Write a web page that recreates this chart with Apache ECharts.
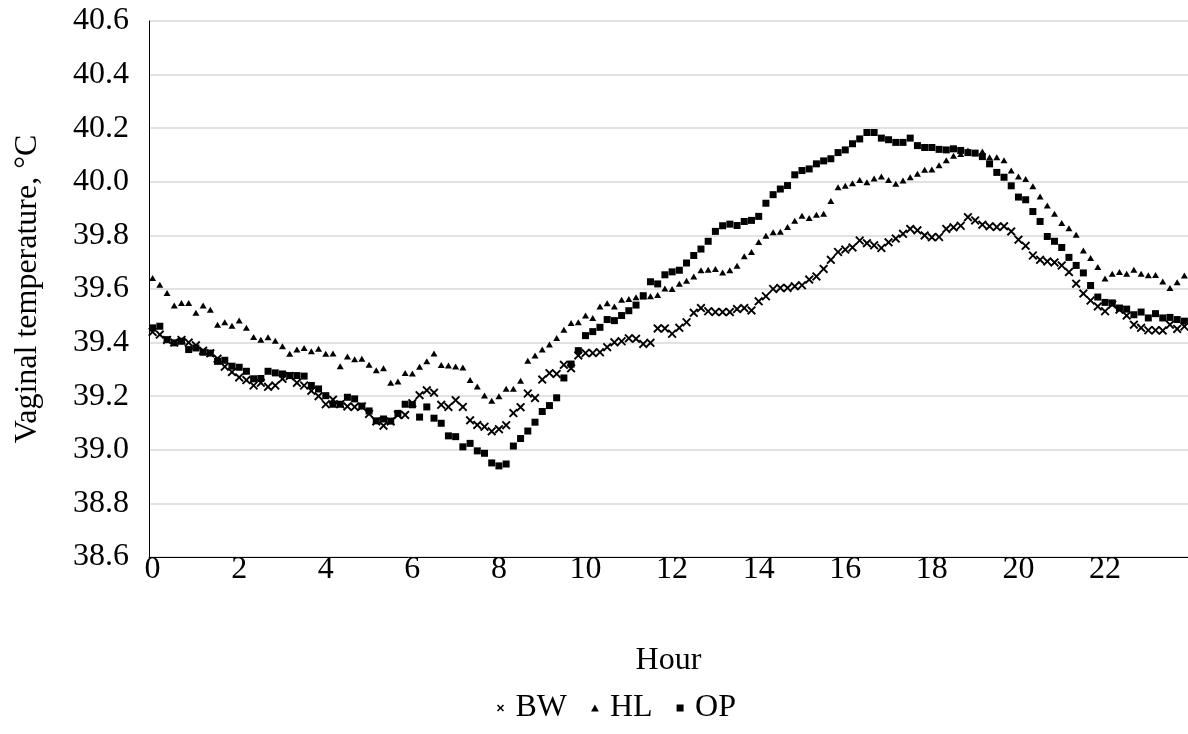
<!DOCTYPE html>
<html>
<head>
<meta charset="utf-8">
<script src="https://cdn.jsdelivr.net/npm/echarts@6/dist/echarts.min.js"></script>
<style>html,body{margin:0;padding:0;background:#fff;}#c{width:1188px;height:734px;}</style>
</head>
<body>
<div id="c"></div>
<script>
// 10-minute readings, 144 per series (hour 0:00 .. 23:50)
const seriesNames = ['BW', 'HL', 'OP'];
const xTickLabels = ['0','2','4','6','8','10','12','14','16','18','20','22'];
const yTickLabels = ['38.6','38.8','39.0','39.2','39.4','39.6','39.8','40.0','40.2','40.4','40.6'];

const bw = [39.44,39.43,39.41,39.40,39.41,39.40,39.39,39.37,39.36,39.34,
39.31,39.29,39.27,39.26,39.24,39.25,39.235,39.24,39.265,39.275,
39.25,39.24,39.22,39.20,39.17,39.187,39.17,39.162,39.16,39.162,
39.134,39.106,39.09,39.106,39.13,39.13,39.174,39.204,39.222,39.213,
39.168,39.16,39.185,39.16,39.11,39.093,39.086,39.069,39.077,39.092,
39.137,39.159,39.21,39.193,39.262,39.286,39.283,39.317,39.304,39.352,
39.361,39.361,39.364,39.383,39.401,39.405,39.416,39.414,39.395,39.399,
39.453,39.453,39.433,39.455,39.476,39.511,39.529,39.517,39.514,39.514,
39.514,39.525,39.529,39.520,39.554,39.573,39.600,39.604,39.604,39.610,
39.614,39.635,39.647,39.675,39.709,39.738,39.747,39.755,39.781,39.771,
39.763,39.753,39.774,39.788,39.806,39.824,39.819,39.800,39.793,39.794,
39.824,39.830,39.836,39.868,39.856,39.840,39.834,39.831,39.834,39.815,
39.784,39.761,39.725,39.709,39.703,39.699,39.688,39.663,39.620,39.583,
39.557,39.535,39.517,39.542,39.523,39.501,39.467,39.455,39.446,39.446,
39.445,39.467,39.451,39.46];

const hl = [39.641,39.616,39.585,39.538,39.548,39.548,39.511,39.538,39.523,39.467,
39.476,39.463,39.482,39.455,39.421,39.411,39.420,39.407,39.386,39.358,
39.374,39.380,39.368,39.377,39.358,39.359,39.312,39.348,39.338,39.340,
39.317,39.297,39.304,39.250,39.255,39.287,39.285,39.31,39.33,39.359,
39.316,39.315,39.311,39.307,39.260,39.236,39.203,39.183,39.200,39.228,
39.228,39.258,39.332,39.352,39.374,39.393,39.417,39.448,39.473,39.476,
39.501,39.492,39.535,39.547,39.535,39.560,39.563,39.569,39.572,39.573,
39.578,39.602,39.600,39.620,39.631,39.647,39.670,39.672,39.675,39.662,
39.670,39.687,39.722,39.738,39.775,39.799,39.812,39.814,39.831,39.855,
39.873,39.865,39.877,39.881,39.928,39.980,39.985,39.995,40.007,39.998,
40.012,40.020,40.007,39.993,40.005,40.017,40.030,40.045,40.046,40.062,
40.080,40.097,40.104,40.117,40.109,40.113,40.092,40.092,40.080,40.042,
40.020,40.010,39.983,39.945,39.912,39.881,39.846,39.827,39.802,39.744,
39.716,39.682,39.639,39.657,39.663,39.657,39.672,39.657,39.651,39.652,
39.628,39.604,39.625,39.65];

const op = [39.455,39.461,39.411,39.399,39.405,39.374,39.380,39.364,39.361,39.330,
39.334,39.312,39.308,39.293,39.265,39.266,39.293,39.287,39.283,39.277,
39.277,39.275,39.240,39.227,39.202,39.170,39.170,39.196,39.190,39.163,
39.145,39.108,39.115,39.107,39.136,39.170,39.168,39.122,39.160,39.118,
39.099,39.052,39.049,39.011,39.024,38.996,38.987,38.951,38.940,38.947,
39.014,39.042,39.070,39.103,39.143,39.165,39.194,39.268,39.320,39.370,
39.426,39.441,39.457,39.486,39.482,39.501,39.519,39.540,39.575,39.627,
39.619,39.653,39.664,39.670,39.697,39.725,39.749,39.778,39.815,39.836,
39.842,39.837,39.852,39.856,39.871,39.920,39.952,39.973,39.986,40.026,
40.042,40.048,40.067,40.078,40.086,40.109,40.119,40.142,40.160,40.184,
40.184,40.163,40.157,40.147,40.147,40.163,40.135,40.128,40.128,40.121,
40.119,40.123,40.117,40.109,40.107,40.094,40.067,40.035,40.017,39.985,
39.943,39.933,39.889,39.852,39.796,39.778,39.755,39.718,39.688,39.660,
39.613,39.570,39.550,39.548,39.529,39.525,39.504,39.514,39.492,39.508,
39.492,39.494,39.486,39.48];

// category labels: one per 10-minute reading
const categories = [];
for (let h = 0; h < 24; h++) for (let m = 0; m < 60; m += 10) categories.push(h + ':' + (m < 10 ? '0' : '') + m);

const FONT = '"Liberation Serif", "Times New Roman", serif';
const FS = 32;
const xPath = 'path://M0,1.5L1.5,0L5,3.5L8.5,0L10,1.5L6.5,5L10,8.5L8.5,10L5,6.5L1.5,10L0,8.5L3.5,5Z';
const triPath = 'path://M5,0L10,9L0,9Z';
const sqPath = 'path://M0,0L10,0L10,10L0,10Z';

const chart = echarts.init(document.getElementById('c'), null, {renderer: 'canvas'});
chart.setOption({
  animation: false,
  backgroundColor: '#fff',
  textStyle: {fontFamily: FONT, color: '#000'},
  grid: {left: 149, top: 21, width: 1047, height: 536, containLabel: false},
  xAxis: {
    type: 'category',
    data: categories,
    boundaryGap: true,
    name: 'Hour',
    nameLocation: 'middle',
    nameGap: 88,
    nameTextStyle: {fontFamily: FONT, fontSize: FS, color: '#000'},
    axisLine: {show: true, lineStyle: {color: '#000', width: 1}},
    axisTick: {show: false},
    axisLabel: {
      interval: 11,
      margin: -3,
      fontFamily: FONT, fontSize: FS, color: '#000',
      formatter: (v, idx) => xTickLabels[Math.round(idx / 12)]
    },
    splitLine: {show: false}
  },
  yAxis: {
    type: 'value',
    min: 38.6, max: 40.6, interval: 0.2,
    name: 'Vaginal temperature, \u00B0C',
    nameLocation: 'middle',
    nameGap: 105,
    nameTextStyle: {fontFamily: FONT, fontSize: FS, color: '#000'},
    axisLine: {show: true, lineStyle: {color: '#000', width: 1}},
    axisTick: {show: false},
    axisLabel: {
      margin: 20,
      fontFamily: FONT, fontSize: FS, color: '#000',
      formatter: v => yTickLabels[Math.round((v - 38.6) / 0.2)]
    },
    splitLine: {show: true, lineStyle: {color: '#d9d9d9', width: 1.5}}
  },
  legend: {
    bottom: 5,
    left: 492,
    itemGap: 24,
    itemWidth: 20,
    itemHeight: 7,
    symbolKeepAspect: true,
    textStyle: {fontFamily: FONT, fontSize: FS, color: '#000'},
    data: [
      {name: 'BW', icon: xPath},
      {name: 'HL', icon: triPath},
      {name: 'OP', icon: sqPath}
    ]
  },
  series: [
    {name: 'BW', type: 'line', data: bw, symbol: xPath, symbolSize: 9, showSymbol: true, showAllSymbol: true,
     lineStyle: {width: 0, opacity: 0}, itemStyle: {color: '#000'}, emphasis: {disabled: true}, silent: true},
    {name: 'HL', type: 'line', data: hl, symbol: 'triangle', symbolSize: [7, 6], showSymbol: true, showAllSymbol: true,
     lineStyle: {width: 0, opacity: 0}, itemStyle: {color: '#000'}, emphasis: {disabled: true}, silent: true},
    {name: 'OP', type: 'line', data: op, symbol: 'rect', symbolSize: 7, showSymbol: true, showAllSymbol: true,
     lineStyle: {width: 0, opacity: 0}, itemStyle: {color: '#000'}, emphasis: {disabled: true}, silent: true}
  ]
});
</script>
</body>
</html>
